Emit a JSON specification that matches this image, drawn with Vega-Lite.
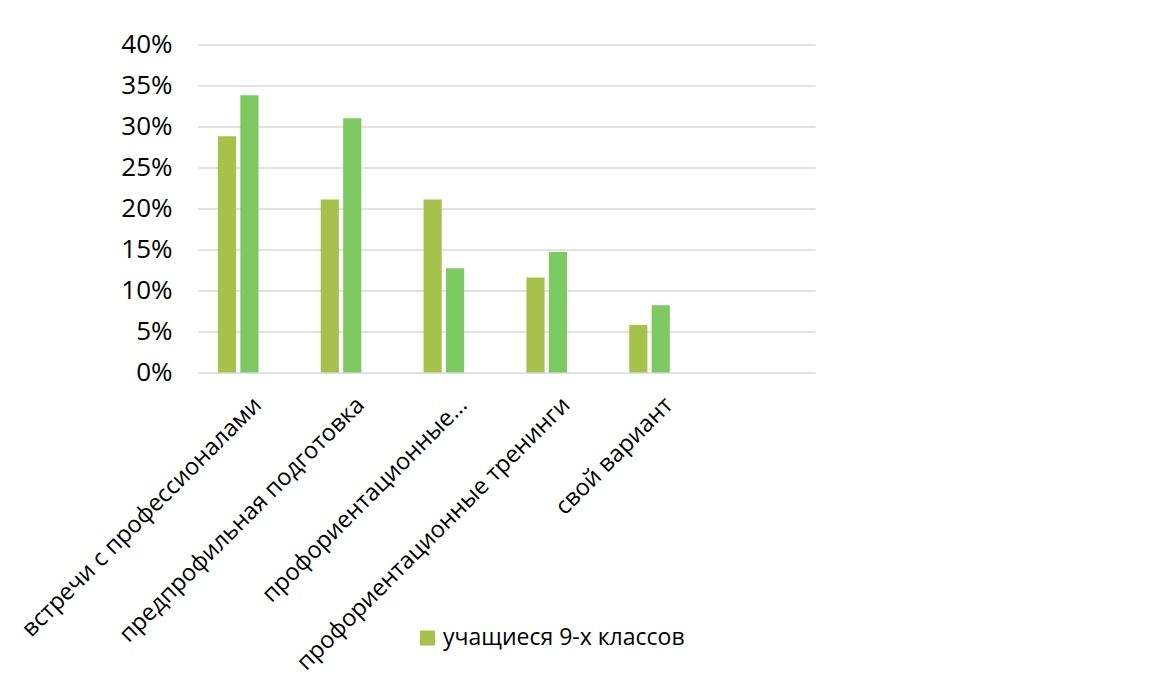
{
  "$schema": "https://vega.github.io/schema/vega-lite/v6.json",
  "autosize": "none",
  "padding": {"left": 198, "top": 44.5, "right": 339, "bottom": 306.5},
  "width": 617,
  "height": 328,
  "background": "white",
  "config": {
    "view": {"stroke": null},
    "font": "Open Sans"
  },
  "data": {
    "values": [
      {"category": "встречи с профессионалами", "series": "учащиеся 9-х классов", "value": 0.288},
      {"category": "встречи с профессионалами", "series": "учащиеся 10-11-х классов", "value": 0.338},
      {"category": "предпрофильная подготовка", "series": "учащиеся 9-х классов", "value": 0.211},
      {"category": "предпрофильная подготовка", "series": "учащиеся 10-11-х классов", "value": 0.310},
      {"category": "профориентационные…", "series": "учащиеся 9-х классов", "value": 0.211},
      {"category": "профориентационные…", "series": "учащиеся 10-11-х классов", "value": 0.127},
      {"category": "профориентационные тренинги", "series": "учащиеся 9-х классов", "value": 0.116},
      {"category": "профориентационные тренинги", "series": "учащиеся 10-11-х классов", "value": 0.147},
      {"category": "свой вариант", "series": "учащиеся 9-х классов", "value": 0.058},
      {"category": "свой вариант", "series": "учащиеся 10-11-х классов", "value": 0.082}
    ]
  },
  "mark": {"type": "bar"},
  "encoding": {
    "x": {
      "field": "category",
      "type": "nominal",
      "sort": null,
      "scale": {
        "domain": ["встречи с профессионалами", "предпрофильная подготовка", "профориентационные…", "профориентационные тренинги", "свой вариант", " "],
        "paddingInner": 0.387,
        "paddingOuter": 0.1935
      },
      "axis": {
        "title": null,
        "labelAngle": -45,
        "labelFontSize": 23.5,
        "labelColor": "#000000",
        "labelFont": "Open Sans",
        "labelLimit": 0,
        "labelPadding": 20,
        "labelDx": -7,
        "ticks": false,
        "tickSize": 0,
        "domain": false,
        "grid": false
      }
    },
    "xOffset": {
      "field": "series",
      "type": "nominal",
      "scale": {
        "domain": ["учащиеся 9-х классов", "учащиеся 10-11-х классов", "родители"],
        "paddingInner": 0.19,
        "paddingOuter": 0
      }
    },
    "y": {
      "field": "value",
      "type": "quantitative",
      "scale": {"domain": [0, 0.4], "nice": false},
      "axis": {
        "title": null,
        "format": ".0%",
        "values": [0, 0.05, 0.1, 0.15, 0.2, 0.25, 0.3, 0.35, 0.4],
        "labelFontSize": 26,
        "labelColor": "#000000",
        "labelFont": "Open Sans",
        "labelPadding": 26,
        "ticks": false,
        "tickSize": 0,
        "domain": false,
        "grid": true,
        "gridColor": "#d9d9d9",
        "gridWidth": 1.3
      }
    },
    "color": {
      "field": "series",
      "type": "nominal",
      "scale": {
        "domain": ["учащиеся 9-х классов", "учащиеся 10-11-х классов", "родители"],
        "range": ["#a7c24b", "#7dca63", "#5fae4a"]
      },
      "legend": {
        "title": null,
        "values": ["учащиеся 9-х классов"],
        "orient": "none",
        "legendX": 218,
        "legendY": 582,
        "symbolType": "square",
        "symbolSize": 225,
        "symbolStrokeWidth": 0,
        "labelFontSize": 23,
        "labelFont": "Open Sans",
        "labelColor": "#000000",
        "labelOffset": 4,
        "labelLimit": 0
      }
    }
  }
}
